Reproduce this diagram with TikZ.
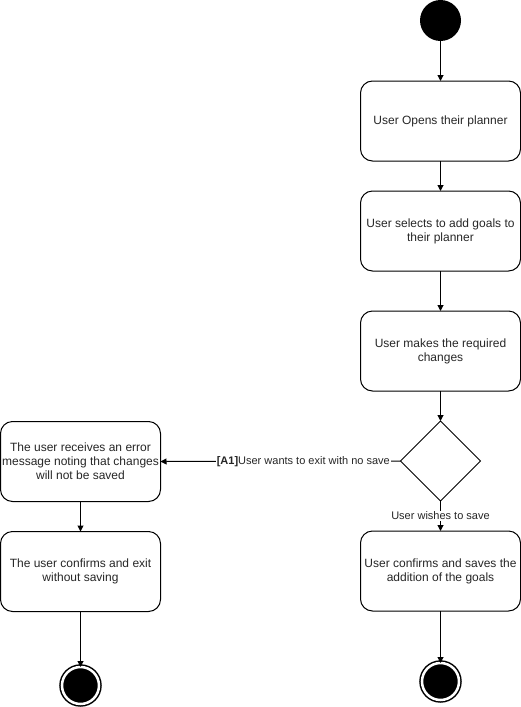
\documentclass[tikz,border=0pt]{standalone}
\usepackage{fontspec}
\setmainfont{Liberation Sans}
\usetikzlibrary{shapes.geometric,arrows.meta}
\begin{document}
\begin{tikzpicture}[x=1pt,y=-1pt,
  every node/.style={inner sep=0pt, outer sep=0pt},
  act/.style={draw, line width=1pt, rounded corners=12pt, minimum width=160pt, minimum height=80pt,
    align=center, font=\fontsize{12}{14}\selectfont, text=black!85},
  decision/.style={draw, line width=1pt, diamond, minimum width=80pt, minimum height=80pt, aspect=1},
  startnode/.style={circle, fill=black, minimum size=41pt},
  endnode/.style={circle, draw, line width=1.5pt, fill=black, minimum size=37pt, double=white, double distance=2.5pt},
  flow/.style={line width=1pt, -{Triangle[length=6pt,width=6pt]}},
  edgelabel/.style={fill=white, inner sep=1pt, font=\fontsize{11}{13}\selectfont, text=black!85}]
\useasboundingbox (0,0) rectangle (521,707);

\node[startnode] (start) at (440.5,20.5) {};
\node[act] (open) at (440.5,121) {User Opens their planner};
\node[act] (select) at (440.5,231) {User selects to add goals to\\their planner};
\node[act] (changes) at (440.5,351) {User makes the required\\changes};
\node[decision] (dec) at (440.5,461) {};
\node[act] (err) at (80.5,461.5) {The user receives an error\\message noting that changes\\will not be saved};
\node[act] (exit) at (80.5,571.5) {The user confirms and exit\\without saving};
\node[act] (save) at (440.5,571) {User confirms and saves the\\addition of the goals};
\node[endnode] (endl) at (80.5,685.5) {};
\node[endnode] (endr) at (440.5,681.5) {};

\draw[flow] (start) -- (open);
\draw[flow] (open) -- (select);
\draw[flow] (select) -- (changes);
\draw[flow] (changes) -- (dec);
\draw[flow] (dec.west) -- node[edgelabel, pos=0.405] {\textbf{[A1]}User wants to exit with no save} (err.east);
\draw[flow] (dec.south) -- node[edgelabel, pos=0.5] {User wishes to save} (save.north);
\draw[flow] (err) -- (exit);
\draw[flow] (exit) -- (endl);
\draw[flow] (save) -- (endr);
\end{tikzpicture}
\end{document}
